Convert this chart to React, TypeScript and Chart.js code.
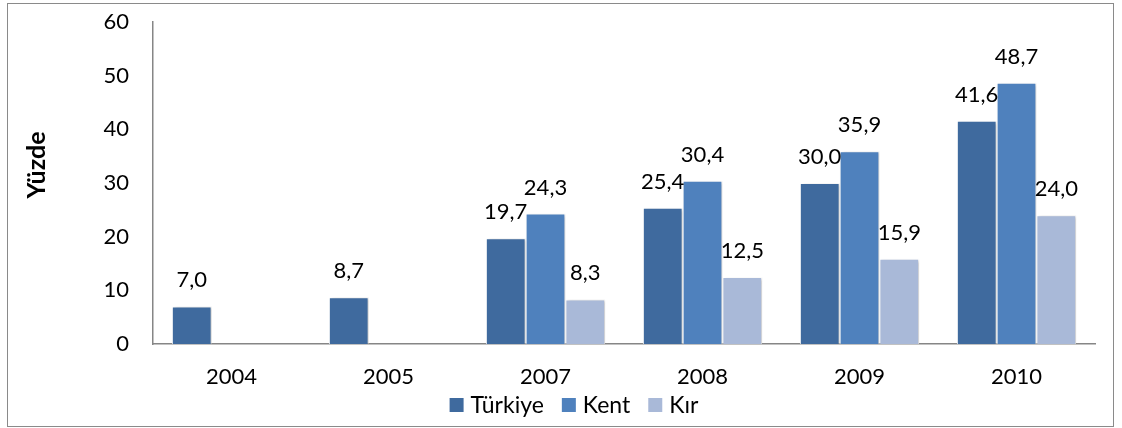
import React, { useEffect, useRef } from "react";
import { Chart, registerables } from "chart.js";

Chart.register(...registerables);

// Survey years and the three series (percent)
const years = ["2004", "2005", "2007", "2008", "2009", "2010"];
const turkiye = [7.0, 8.7, 19.7, 25.4, 30.0, 41.6];
const kent = [null, null, 24.3, 30.4, 35.9, 48.7];
const kir = [null, null, 8.3, 12.5, 15.9, 24.0];
const seriesNames = ["Türkiye", "Kent", "Kır"];
const seriesColors = ["#3F6A9E", "#4F81BD", "#A9B9D8"];
const yTicks = [0, 10, 20, 30, 40, 50, 60];
const axisTitle = "Yüzde";

const FONT = "Lato, 'Open Sans', sans-serif";

const fmt = (v: number) => v.toFixed(1).replace(".", ",");

// Outer frame around the whole chart
const framePlugin = {
  id: "frame",
  beforeDraw(chart: any) {
    const ctx = chart.ctx;
    ctx.save();
    ctx.fillStyle = "#ffffff";
    ctx.fillRect(0, 0, chart.width, chart.height);
    ctx.strokeStyle = "#8a8a8a";
    ctx.lineWidth = 1;
    ctx.strokeRect(7.5, 3.5, 1106, 423);
    ctx.restore();
  },
};

// Soft shadow behind bars
const shadowPlugin = {
  id: "barShadow",
  beforeDatasetsDraw(chart: any) {
    const ctx = chart.ctx;
    ctx.save();
    ctx.shadowColor = "rgba(0,0,0,0.22)";
    ctx.shadowBlur = 3;
    ctx.shadowOffsetX = 2;
    ctx.shadowOffsetY = 1;
  },
  afterDatasetsDraw(chart: any) {
    chart.ctx.restore();
  },
};

// Value labels above each bar
const valueLabelPlugin = {
  id: "valueLabels",
  afterDatasetsDraw(chart: any) {
    const ctx = chart.ctx;
    ctx.save();
    ctx.font = `22px ${FONT}`;
    ctx.fillStyle = "#000000";
    ctx.textAlign = "center";
    ctx.textBaseline = "alphabetic";
    chart.data.datasets.forEach((ds: any, di: number) => {
      const meta = chart.getDatasetMeta(di);
      meta.data.forEach((bar: any, i: number) => {
        const v = ds.data[i];
        if (v === null || v === undefined) return;
        ctx.fillText(fmt(v), bar.x, bar.y - 19);
      });
    });
    ctx.restore();
  },
};

// Axis title and legend row
const decorPlugin = {
  id: "decor",
  afterDraw(chart: any) {
    const ctx = chart.ctx;
    ctx.save();
    // y-axis title
    ctx.translate(37, 165);
    ctx.rotate(-Math.PI / 2);
    ctx.font = `bold 25px ${FONT}`;
    ctx.fillStyle = "#000000";
    ctx.textAlign = "center";
    ctx.textBaseline = "middle";
    ctx.fillText(axisTitle, 0, 0);
    ctx.restore();

    // legend
    ctx.save();
    ctx.font = `23px ${FONT}`;
    const box = 14;
    const gapText = 7;
    const gapItem = 18;
    const items = chart.data.datasets.map((ds: any) => ({
      label: ds.label,
      color: ds.backgroundColor,
      w: ctx.measureText(ds.label).width,
    }));
    const total =
      items.reduce((s: number, it: any) => s + box + gapText + it.w, 0) +
      gapItem * (items.length - 1);
    let x = 574 - total / 2;
    const cy = 405;
    ctx.textBaseline = "middle";
    ctx.textAlign = "left";
    items.forEach((it: any) => {
      ctx.fillStyle = it.color;
      ctx.fillRect(x, cy - box / 2, box, box);
      ctx.fillStyle = "#000000";
      ctx.fillText(it.label, x + box + gapText, cy + 1);
      x += box + gapText + it.w + gapItem;
    });
    ctx.restore();
  },
};

export default function App() {
  const canvasRef = useRef<HTMLCanvasElement | null>(null);

  useEffect(() => {
    if (!canvasRef.current) return;
    const seriesData = [turkiye, kent, kir];
    const chart = new Chart(canvasRef.current, {
      type: "bar",
      data: {
        labels: years,
        datasets: seriesData.map((d, i) => ({
          label: seriesNames[i],
          data: d,
          backgroundColor: seriesColors[i],
          borderColor: "#ffffff",
          borderWidth: 1,
          categoryPercentage: 0.76,
          barPercentage: 1,
        })),
      },
      options: {
        animation: false,
        responsive: false,
        maintainAspectRatio: false,
        layout: { padding: { top: 22, right: 27, left: 0, bottom: 0 } },
        plugins: {
          legend: { display: false },
          tooltip: { enabled: false },
        },
        scales: {
          x: {
            grid: { display: false, drawTicks: false },
            border: { display: true, color: "#868686", width: 1.5 },
            ticks: {
              color: "#000000",
              font: { family: FONT, size: 22 },
              padding: 20,
              maxRotation: 0,
            },
            afterFit(scale: any) {
              scale.height = 84;
            },
          },
          y: {
            min: 0,
            max: 60,
            grid: { display: false, drawTicks: false },
            border: { display: true, color: "#868686", width: 1.5 },
            afterBuildTicks(scale: any) {
              scale.ticks = yTicks.map((v) => ({ value: v }));
            },
            ticks: {
              color: "#000000",
              font: { family: FONT, size: 22 },
              padding: 24,
            },
            afterFit(scale: any) {
              scale.width = 153;
              scale.paddingTop = 12;
              scale.paddingBottom = 12;
            },
          },
        },
      },
      plugins: [framePlugin, shadowPlugin, valueLabelPlugin, decorPlugin],
    });
    return () => chart.destroy();
  }, []);

  return (
    <div style={{ position: "absolute", left: 0, top: 0, width: 1122, height: 428 }}>
      <canvas ref={canvasRef} width={1122} height={428} style={{ display: "block" }} />
    </div>
  );
}
